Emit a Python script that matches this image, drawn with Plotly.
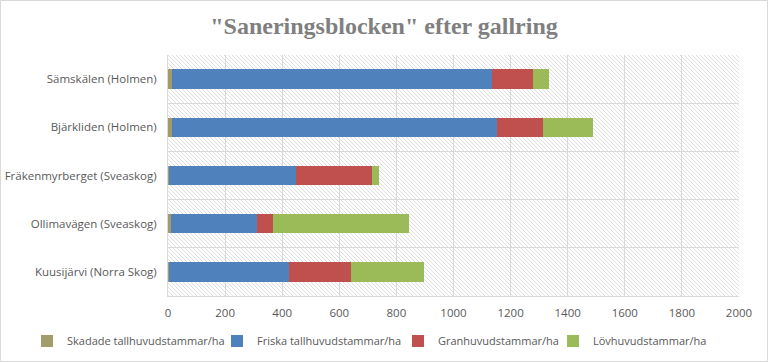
import base64
import plotly.graph_objects as go

categories = ["Kuusijärvi (Norra Skog)", "Ollimavägen (Sveaskog)", "Fräkenmyrberget (Sveaskog)",
              "Bjärkliden (Holmen)", "Sämskälen (Holmen)"]
skadade = [5, 11, 4, 14, 14]
friska = [419, 300, 444, 1138, 1120]
gran = [217, 56, 268, 160, 143]
lov = [256, 477, 22, 178, 57]

series_names = ["Skadade tallhuvudstammar/ha", "Friska tallhuvudstammar/ha",
                "Granhuvudstammar/ha", "Lövhuvudstammar/ha"]
series_values = [skadade, friska, gran, lov]
colors = ["#a39b6b", "#4f81bd", "#c0504d", "#9bbb59"]

x_ticks = list(range(0, 2001, 200))

W, H = 768, 362
L, R, T, B = 168, 29, 55, 66
pw, ph = W - L - R, H - T - B
legend_left_px = [27, 217, 398, 553]
legend_ids = ["legend", "legend2", "legend3", "legend4"]

svg = (f'<svg xmlns="http://www.w3.org/2000/svg" width="{pw}" height="{ph}" viewBox="0 0 {pw} {ph}" '
       f'preserveAspectRatio="none"><defs><pattern id="p" width="4" height="4" patternUnits="userSpaceOnUse">'
       f'<path d="M-1,-1 L5,5 M-1,3 L1,5 M3,-1 L5,1" stroke="#dadada" stroke-width="0.9"/></pattern></defs>'
       f'<rect width="100%" height="100%" fill="url(#p)"/></svg>')
hatch = "data:image/svg+xml;base64," + base64.b64encode(svg.encode()).decode()

fig = go.Figure()
for name, vals, col, lid in zip(series_names, series_values, colors, legend_ids):
    fig.add_trace(go.Bar(y=categories, x=vals, name=name, orientation="h", legend=lid,
                         marker=dict(color=col, line=dict(width=0))))

legends = {}
for lid, px in zip(legend_ids, legend_left_px):
    legends[lid] = dict(orientation="h", x=px / W, xref="container", xanchor="left",
                        y=(H - 341) / H, yref="container", yanchor="middle",
                        font=dict(family="Open Sans", size=11, color="#595959"),
                        itemwidth=30, bgcolor="rgba(0,0,0,0)")

fig.update_layout(
    width=W, height=H,
    barmode="stack", bargap=0.6,
    margin=dict(l=L, r=R, t=T, b=B, autoexpand=False),
    paper_bgcolor="white", plot_bgcolor="white",
    font=dict(family="Open Sans", size=11, color="#595959"),
    title=dict(text='<b>"Saneringsblocken" efter gallring</b>', x=0.5, xref="container", xanchor="center",
               y=1 - 26 / H, yanchor="middle",
               font=dict(family="Liberation Serif", size=24, color="#7f7f7f")),
    xaxis=dict(range=[0, 2000], tickvals=x_ticks, showgrid=True, gridcolor="#d9d9d9", gridwidth=1,
               zeroline=False, showline=True, linecolor="#d9d9d9", ticks="", fixedrange=True,
               automargin=False, ticklabelstandoff=6, tickfont=dict(size=11.5, color="#595959")),
    yaxis=dict(type="category", tickson="boundaries", showgrid=True, gridcolor="#d9d9d9", gridwidth=1,
               showline=True, linecolor="#d9d9d9", ticks="", automargin=False, ticklabelstandoff=8,
               fixedrange=True, tickfont=dict(size=11.5, color="#595959")),
    images=[dict(source=hatch, xref="paper", yref="paper", x=0, y=1, sizex=1, sizey=1,
                 sizing="stretch", xanchor="left", yanchor="top", layer="below")],
    shapes=[dict(type="rect", xref="paper", yref="paper", x0=-(L - 0.5) / pw, x1=1 + (R - 0.5) / pw,
                 y0=-(B - 0.5) / ph, y1=1 + (T - 0.5) / ph, line=dict(color="#d9d9d9", width=1),
                 layer="below")],
    showlegend=True,
    **legends,
)

fig.write_html("out.html", config={"displayModeBar": False},
               post_script="document.body.style.margin='0';")
